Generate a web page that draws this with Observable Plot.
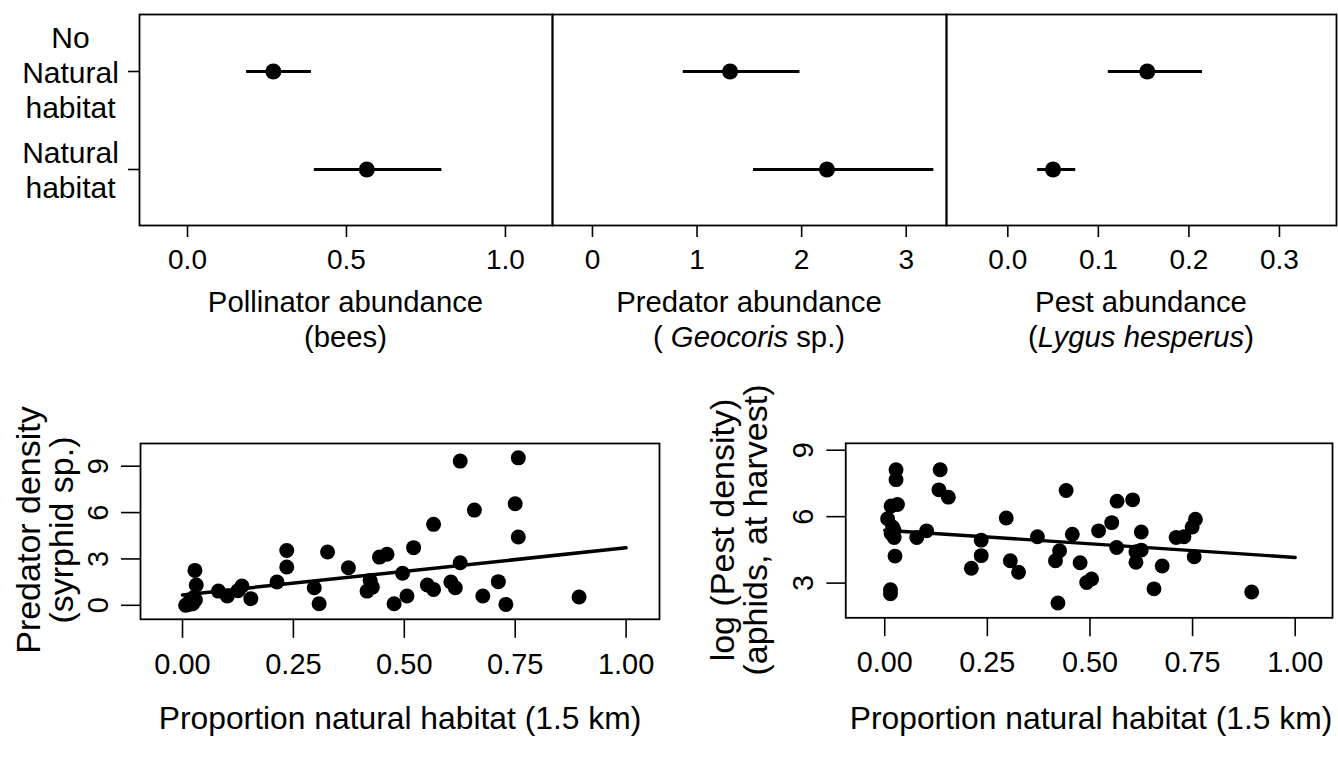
<!DOCTYPE html>
<html><head><meta charset="utf-8">
<script src="https://cdn.jsdelivr.net/npm/d3@7"></script>
<script src="https://cdn.jsdelivr.net/npm/@observablehq/plot@0.6"></script>
<style>
body{margin:0;background:#fff;font-family:"Liberation Sans",Arial,sans-serif;}
#c{position:relative;width:1338px;height:759px;overflow:hidden;background:#fff;}
.p{position:absolute;}
.t{position:absolute;text-align:center;color:#000;white-space:nowrap;font-family:"Liberation Sans",Arial,sans-serif;}
</style></head><body><div id="c"></div>
<script>
// ---------- data ----------
const habitats = ["No Natural habitat", "Natural habitat"];
const habitatLabels = ["No\nNatural\nhabitat", "Natural\nhabitat"];

const pollinatorMean = [0.270, 0.564];
const pollinatorLow  = [0.186, 0.399];
const pollinatorHigh = [0.390, 0.800];

const predatorMean = [1.316, 2.242];
const predatorLow  = [0.868, 1.540];
const predatorHigh = [1.984, 3.264];

const pestMean = [0.154, 0.050];
const pestLow  = [0.111, 0.033];
const pestHigh = [0.215, 0.075];

const pollinatorTicks = [0, 0.5, 1.0];
const predatorTicks = [0, 1, 2, 3];
const pestTicks = [0, 0.1, 0.2, 0.3];

const syrphidX = [0.007,0.014,0.016,0.023,0.025,0.028,0.031,0.029,0.081,0.101,0.125,0.134,0.154,0.213,0.235,0.235,0.297,0.308,0.327,0.374,0.416,0.423,0.428,0.444,0.461,0.477,0.496,0.506,0.521,0.552,0.566,0.566,0.605,0.615,0.626,0.626,0.658,0.677,0.712,0.729,0.750,0.757,0.757,0.894];
const syrphidY = [0.00,0.06,0.25,0.10,0.50,2.26,1.31,0.35,0.92,0.60,0.95,1.25,0.43,1.51,2.48,3.55,1.14,0.10,3.45,2.43,0.92,1.61,1.18,3.12,3.30,0.10,2.07,0.60,3.73,1.31,1.03,5.24,1.51,1.14,2.75,9.33,6.16,0.60,1.53,0.06,6.57,9.54,4.42,0.54];

const aphidX = [0.0275,0.0275,0.0155,0.031,0.007,0.019,0.023,0.0155,0.023,0.025,0.014,0.014,0.078,0.102,0.135,0.132,0.155,0.211,0.235,0.235,0.296,0.306,0.326,0.372,0.416,0.426,0.422,0.442,0.457,0.476,0.492,0.504,0.521,0.553,0.566,0.604,0.565,0.625,0.612,0.625,0.612,0.656,0.676,0.710,0.729,0.749,0.757,0.754,0.894];
const aphidY = [8.12,7.67,6.48,6.55,5.91,5.53,5.39,5.24,5.06,4.22,2.70,2.52,5.06,5.36,8.12,7.21,6.88,3.67,4.94,4.24,5.94,4.01,3.49,5.09,4.01,4.46,2.10,7.18,5.21,3.92,3.03,3.19,5.36,5.73,6.70,6.76,4.61,5.31,4.42,4.49,3.94,2.74,3.77,5.06,5.09,5.53,5.88,4.19,2.60];

const fitX = [0, 1];
const syrphidFit = [0.67, 3.72];
const aphidFit = [5.39, 4.16];

const proportionTicks = [0, 0.25, 0.5, 0.75, 1];
const syrphidTicks = [0, 3, 6, 9];
const aphidTicks = [3, 6, 9];

// ---------- layout helpers ----------
const C = document.getElementById("c");
const FONT = '"Liberation Sans", Arial, sans-serif';

function place(svg, left, top) {
  const d = document.createElement("div");
  d.className = "p";
  d.style.left = left + "px";
  d.style.top = top + "px";
  d.appendChild(svg);
  C.appendChild(d);
}

function label(html, cx, top, size, lh, rotate) {
  const d = document.createElement("div");
  d.className = "t";
  d.innerHTML = html;
  d.style.fontSize = size + "px";
  d.style.lineHeight = lh + "px";
  if (rotate) {
    const w = 380, h = lh * 2;
    d.style.width = w + "px"; d.style.height = h + "px";
    d.style.left = (cx - w / 2) + "px";
    d.style.top = (top - h / 2) + "px";
    d.style.transform = "rotate(-90deg)";
  } else {
    d.style.width = "500px";
    d.style.left = (cx - 250) + "px";
    d.style.top = top + "px";
  }
  C.appendChild(d);
}

const baseStyle = {background: "transparent", overflow: "visible", fontFamily: FONT, color: "black"};

// ---------- top panels ----------
function topPanel({mean, low, high, domain, ticks, fmt, frameLeft, frameRight, mL, mR, showY}) {
  const rows = habitats.map((h, i) => ({h, lab: habitatLabels[i], m: mean[i], lo: low[i], hi: high[i]}));
  const mT = 14, frameBottom = 225, mB = 60;
  const marks = [
    Plot.frame({stroke: "black", strokeWidth: 1.8}),
    Plot.axisX({ticks, tickFormat: fmt, tickSize: 12, tickPadding: 12, label: null, fontSize: 28, strokeWidth: 1.6}),
    Plot.ruleY(rows, {y: "h", x1: "lo", x2: "hi", stroke: "black", strokeWidth: 3}),
    Plot.dot(rows, {x: "m", y: "h", r: 8, fill: "black", stroke: "none"})
  ];
  if (showY) {
    marks.push(Plot.axisY({anchor: "left", tickSize: 11, tickFormat: () => "", label: null, strokeWidth: 1.6}));
    marks.push(Plot.text(rows, {y: "h", text: "lab", frameAnchor: "left", dx: -69, textAnchor: "middle", lineAnchor: "middle", fontSize: 30, lineHeight: 1.17}));
  }
  const svg = Plot.plot({
    width: (frameRight - frameLeft) + mL + mR,
    height: frameBottom + mB,
    marginLeft: mL, marginRight: mR, marginTop: mT, marginBottom: mB,
    style: {...baseStyle, fontSize: "28px"},
    x: {domain},
    y: {type: "point", domain: habitats, padding: 0.571, axis: null},
    marks
  });
  place(svg, frameLeft - mL, 0);
}

topPanel({mean: pollinatorMean, low: pollinatorLow, high: pollinatorHigh, domain: [-0.151, 1.148], ticks: pollinatorTicks, fmt: d3.format(".1f"), frameLeft: 139, frameRight: 552, mL: 139, mR: 0, showY: true});
topPanel({mean: predatorMean, low: predatorLow, high: predatorHigh, domain: [-0.382, 3.385], ticks: predatorTicks, fmt: d3.format("d"), frameLeft: 552, frameRight: 946, mL: 20, mR: 0, showY: false});
topPanel({mean: pestMean, low: pestLow, high: pestHigh, domain: [-0.0677, 0.363], ticks: pestTicks, fmt: d3.format(".1f"), frameLeft: 946, frameRight: 1336, mL: 20, mR: 2, showY: false});

const topTitleSize = 29.3, topLH = 35;
const topOff = (topLH - 1.117 * topTitleSize) / 2 + 0.905 * topTitleSize;
label("Pollinator abundance<br>(bees)", 345.5, 312 - topOff, topTitleSize, topLH);
label("Predator abundance<br>( <i>Geocoris</i> sp.)", 749, 312 - topOff, topTitleSize, topLH);
label("Pest abundance<br>(<i>Lygus hesperus</i>)", 1141, 312 - topOff, topTitleSize, topLH);

// ---------- bottom scatter panels ----------
function scatter({xs, ys, fit, xDomain, yDomain, yTicks, frameLeft, frameRight, frameTop, frameBottom, mL}) {
  const pts = xs.map((x, i) => ({x, y: ys[i]}));
  const line = fitX.map((x, i) => ({x, y: fit[i]}));
  const mT = 20, mR = 6, mB = 70;
  const svg = Plot.plot({
    width: (frameRight - frameLeft) + mL + mR,
    height: (frameBottom - frameTop) + mT + mB,
    marginLeft: mL, marginRight: mR, marginTop: mT, marginBottom: mB,
    style: {...baseStyle, fontSize: "29px"},
    x: {domain: xDomain},
    y: {domain: yDomain},
    marks: [
      Plot.frame({stroke: "black", strokeWidth: 1.8}),
      Plot.axisX({ticks: proportionTicks, tickFormat: d3.format(".2f"), tickSize: 19, tickPadding: 15, label: null, fontSize: 29, strokeWidth: 1.6}),
      Plot.axisY({ticks: yTicks, tickFormat: d3.format("d"), tickSize: 19, tickPadding: 14, tickRotate: -90, label: null, fontSize: 29, strokeWidth: 1.6}),
      Plot.dot(pts, {x: "x", y: "y", r: 7.5, fill: "black", stroke: "none"}),
      Plot.line(line, {x: "x", y: "y", stroke: "black", strokeWidth: 3.5})
    ]
  });
  place(svg, frameLeft - mL, frameTop - mT);
}

scatter({xs: syrphidX, ys: syrphidY, fit: syrphidFit, xDomain: [-0.0947, 1.0753], yDomain: [-0.905, 10.47], yTicks: syrphidTicks,
  frameLeft: 140, frameRight: 659, frameTop: 442.5, frameBottom: 618.3, mL: 140});
scatter({xs: aphidX, ys: aphidY, fit: aphidFit, xDomain: [-0.095, 1.091], yDomain: [1.433, 9.31], yTicks: aphidTicks,
  frameLeft: 846, frameRight: 1336.5, frameTop: 442.5, frameBottom: 618.3, mL: 100});

const bxSize = 31.8, bxLH = 36;
const bxOff = (bxLH - 1.117 * bxSize) / 2 + 0.905 * bxSize;
label("Proportion natural habitat (1.5 km)", 400, 729 - bxOff, bxSize, bxLH);
label("Proportion natural habitat (1.5 km)", 1091, 729 - bxOff, bxSize, bxLH);

const bySize = 34, byLH = 33;
const byOff = (byLH - 1.117 * bySize) / 2 + 0.905 * bySize;
label("Predator density<br>(syrphid sp.)", 40 - byOff + byLH, 530, bySize, byLH, true);
label("log (Pest density)<br>(aphids, at harvest)", 734 - byOff + byLH, 530, bySize, byLH, true);
</script></body></html>
